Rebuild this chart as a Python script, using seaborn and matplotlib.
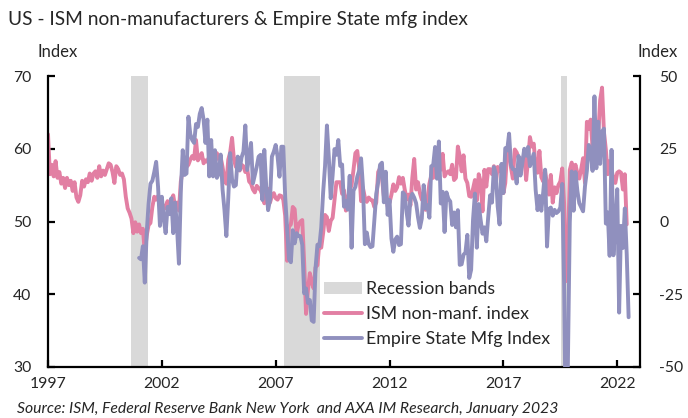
import numpy as np
import pandas as pd
import matplotlib
matplotlib.use("Agg")
import matplotlib.pyplot as plt
from matplotlib.patches import Patch
from matplotlib.lines import Line2D
import seaborn as sns

# ---------------- data ----------------
ism_start = 1997.5      # July 1997
ism_values = [
    62.0, 56.5, 57.8, 56.2, 58.3, 56.0,                                  # 1997 H2
    56.8, 55.2, 56.0, 54.6, 56.0, 55.0, 55.6, 54.2, 55.4, 53.3, 52.7, 53.6,  # 1998
    55.6, 54.8, 55.8, 55.4, 56.6, 55.6, 56.6, 56.9, 56.0, 57.6, 56.2, 57.0,  # 1999
    56.4, 57.2, 58.0, 57.8, 56.8, 55.3, 57.6, 57.2, 56.4, 56.6, 55.8, 53.4,  # 2000
    51.8, 51.2, 50.4, 48.4, 49.9, 48.6, 49.6, 48.4, 49.0, 45.8, 48.0, 49.5,  # 2001
    49.8, 52.0, 53.4, 53.0, 53.5, 52.2, 52.6, 52.0, 51.8, 52.8, 51.5, 52.3,  # 2002
    53.6, 52.0, 52.6, 51.5, 55.5, 57.0, 58.8, 57.5, 57.8, 58.5, 59.0, 58.6,  # 2003
    61.2, 58.4, 58.8, 59.4, 58.0, 58.4, 58.2, 59.0, 57.6, 59.2, 58.0, 59.4,  # 2004
    58.6, 58.8, 57.5, 55.8, 55.2, 58.5, 59.5, 61.5, 58.5, 57.5, 58.8, 57.0,  # 2005
    57.8, 57.6, 56.8, 57.2, 55.5, 55.2, 54.4, 54.0, 54.9, 54.6, 54.3, 53.6,  # 2006
    52.5, 54.0, 54.5, 52.6, 53.5, 53.9, 53.2, 53.0, 53.6, 53.5, 53.0, 50.8,  # 2007
    44.6, 49.3, 49.6, 52.0, 51.7, 48.2, 49.5, 50.0, 50.2, 44.4, 37.3, 40.6,  # 2008
    42.9, 41.6, 40.8, 43.7, 44.0, 47.0, 46.4, 48.4, 50.9, 50.6, 48.7, 50.1,  # 2009
    50.5, 53.0, 55.4, 55.4, 55.4, 53.8, 54.3, 51.5, 53.2, 54.3, 55.0, 57.1,  # 2010
    59.4, 59.7, 57.3, 52.8, 54.6, 53.3, 52.7, 53.3, 53.0, 52.9, 52.0, 52.6,  # 2011
    56.8, 57.3, 56.0, 53.5, 53.7, 52.1, 52.6, 53.7, 55.1, 54.2, 54.7, 56.1,  # 2012
    55.2, 56.0, 54.4, 53.1, 53.7, 52.2, 56.0, 58.6, 54.4, 55.4, 53.9, 53.0,  # 2013
    54.0, 51.6, 53.1, 55.2, 56.3, 56.0, 58.7, 59.6, 58.6, 57.1, 59.3, 56.2,  # 2014
    56.7, 56.9, 56.5, 57.8, 55.7, 56.0, 60.3, 59.0, 56.9, 59.1, 55.9, 55.3,  # 2015
    53.5, 53.4, 54.5, 55.7, 52.9, 56.5, 55.5, 51.4, 57.1, 54.8, 57.2, 57.2,  # 2016
    56.5, 57.6, 55.2, 57.5, 56.9, 57.4, 53.9, 55.3, 59.8, 60.1, 57.4, 55.9,  # 2017
    59.9, 59.5, 58.8, 56.8, 58.6, 59.1, 55.7, 58.5, 61.6, 60.3, 60.7, 57.6,  # 2018
    56.7, 59.7, 56.1, 55.5, 56.9, 55.1, 53.7, 56.4, 52.6, 54.7, 53.9, 55.0,  # 2019
    55.5, 57.3, 52.5, 41.8, 45.4, 57.1, 58.1, 56.9, 57.8, 56.6, 55.9, 57.2,  # 2020
    58.7, 55.3, 63.7, 62.7, 64.0, 60.1, 64.1, 61.7, 61.9, 66.7, 68.4, 62.3,  # 2021
    59.9, 56.5, 58.3, 57.1, 55.9, 55.3, 56.7, 56.9, 56.7, 54.4, 56.5, 49.6,  # 2022
]

empire_start = 2001.5   # July 2001
empire_values = [
    -12.5, -13.0, -8.5, -21.0, -4.0, 6.0,                               # 2001 H2
    13.0, 14.0, 17.0, 20.5, 12.0, -1.5, 8.5, 1.0, -4.0, 5.0, 2.5, 8.0,   # 2002
    -4.0, 6.5, -2.0, -14.5, 10.5, 24.5, 16.0, 16.5, 36.0, 30.0, 28.0, 27.0,  # 2003
    33.5, 32.5, 37.0, 39.0, 35.0, 27.0, 35.0, 15.5, 28.0, 15.5, 24.5, 15.0,  # 2004
    16.5, 23.0, 11.0, 4.0, -5.0, 8.0, 23.5, 14.5, 12.0, 12.5, 22.3, 17.7,    # 2005
    22.0, 24.0, 33.0, 17.7, 22.3, 27.0, 13.1, 16.0, 18.8, 22.3, 22.9, 7.4,   # 2006
    24.6, 12.0, 3.9, 7.4, 22.3, 24.0, 26.3, 22.3, 15.4, 25.7, 25.7, 8.5,     # 2007
    -2.0, -13.0, -14.0, -3.0, -7.5, -4.0, -5.0, -5.0, -8.0, -24.7, -23.0, -28.0,  # 2008
    -27.0, -34.0, -34.5, -16.0, -8.0, -8.5, -2.0, 10.0, 19.0, 33.0, 22.0, 8.0,    # 2009
    15.9, 24.9, 22.9, 28.0, 19.1, 19.6, 5.1, 7.1, 4.1, 15.7, -9.0, 10.6,     # 2010
    11.9, 15.4, 17.5, 21.7, 11.9, -7.8, -3.8, -7.7, -8.8, -8.5, 0.6, 9.5,    # 2011
    13.5, 19.5, 20.2, 6.6, 17.1, 2.3, 7.4, -5.9, -10.4, -6.2, -5.2, -8.1,    # 2012
    -7.8, 10.0, 9.2, 3.1, -1.4, 7.8, 9.5, 8.2, 6.3, 1.5, -2.2, 1.0,          # 2013
    12.5, 4.5, 5.6, 1.3, 19.0, 19.3, 25.6, 14.7, 27.5, 6.2, 10.2, -3.6,      # 2014
    10.0, 7.8, 6.9, -1.2, 3.1, -2.0, 3.9, -14.9, -14.7, -11.4, -10.7, -4.6,  # 2015
    -19.4, -16.6, 0.6, 9.6, -9.0, 6.0, 0.6, -4.2, -2.0, -6.8, 1.5, 9.0,      # 2016
    6.5, 18.7, 16.4, 5.2, -1.0, 19.8, 9.8, 25.2, 24.4, 30.2, 19.4, 18.0,     # 2017
    17.7, 13.1, 22.5, 15.8, 20.1, 25.0, 22.6, 25.6, 19.0, 21.1, 23.3, 10.9,  # 2018
    3.9, 8.8, 3.7, 10.1, 17.8, -8.6, 4.3, 4.8, 2.0, 4.0, 2.9, 3.5,           # 2019
    4.8, 12.9, -21.5, -78.2, -48.5, -0.2, 17.2, 3.7, 17.0, 10.5, 6.3, 4.9,   # 2020
    3.5, 12.1, 17.4, 26.3, 24.3, 17.4, 43.0, 18.3, 34.3, 19.8, 30.9, 31.9,   # 2021
    -0.7, 3.1, -11.8, 24.6, -11.6, -1.2, 11.1, -31.3, -1.5, -9.1, 4.5, -11.2,  # 2022
    -32.9,                                                               # 2023
]

recession_start = [(2001, 3), (2007, 12), (2020, 2)]
recession_end = [(2001, 11), (2009, 6), (2020, 4)]

tick_years = [1997, 2002, 2007, 2012, 2017, 2022]
left_ticks = [30, 40, 50, 60, 70]
right_ticks = [-50, -25, 0, 25, 50]

title = "US - ISM non-manufacturers & Empire State mfg index"
source = "Source: ISM, Federal Reserve Bank New York  and AXA IM Research, January 2023"
labels = ["Recession bands", "ISM non-manf. index", "Empire State Mfg Index"]

# ---------------- frames ----------------
ism_df = pd.DataFrame({"t": ism_start + np.arange(len(ism_values)) / 12.0,
                       "v": ism_values})
emp_df = pd.DataFrame({"t": empire_start + np.arange(len(empire_values)) / 12.0,
                       "v": empire_values})

def dec(ym):
    return ym[0] + (ym[1] - 1) / 12.0

# ---------------- style ----------------
sns.set_theme(style="white")
FONT = ["Lato", "DejaVu Sans"]
plt.rcParams["font.family"] = FONT
TXT = "#262626"
PINK = "#E27FA3"
PURPLE = "#9090BE"
GREY = "#D9D9D9"
LW = 2.8

fig = plt.figure(figsize=(6.88, 4.18), dpi=100)
ax = fig.add_axes([48 / 688, 1 - 367 / 418, 592 / 688, 291 / 418])
ax2 = ax.twinx()
ax2.patch.set_visible(False)

for s, e in zip(recession_start, recession_end):
    ax.axvspan(dec(s) - 0.5 / 12, dec(e) + 0.5 / 12, color=GREY, lw=0, zorder=0)

sns.lineplot(data=ism_df, x="t", y="v", ax=ax, color=PINK, linewidth=LW, zorder=2)
sns.lineplot(data=emp_df, x="t", y="v", ax=ax2, color=PURPLE, linewidth=LW, zorder=2)

xmin, xmax = 1997.5, 2023.5
for a in (ax, ax2):
    a.set_xlim(xmin, xmax)
    a.set_xlabel("")
    a.set_ylabel("")
ax.set_ylim(30, 70)
ax2.set_ylim(-50, 50)

ax.set_xticks([y + 0.5 for y in tick_years])
ax.set_xticklabels([str(y) for y in tick_years])
ax.set_yticks(left_ticks)
ax.set_yticklabels([str(v) for v in left_ticks])
ax2.set_yticks(right_ticks)
ax2.set_yticklabels([str(v) for v in right_ticks])

for a in (ax, ax2):
    for sp in a.spines.values():
        sp.set_color("black")
        sp.set_linewidth(1.6)
    a.spines["top"].set_visible(False)
ax.spines["right"].set_visible(False)
ax2.spines["left"].set_visible(False)
ax2.spines["bottom"].set_visible(False)

ax.tick_params(axis="x", direction="in", length=5, width=1.6, color="black",
               labelsize=11.3, labelcolor=TXT, pad=7, bottom=True)
ax.tick_params(axis="y", direction="in", length=5, width=1.6, color="black",
               labelsize=11.3, labelcolor=TXT, pad=12, left=True)
ax2.tick_params(axis="y", direction="in", length=5, width=1.6, color="black",
                labelsize=11.3, labelcolor=TXT, pad=14, right=True)

fig.text(8 / 688, 1 - 20 / 418, title, fontsize=13.8, color=TXT, va="center", ha="left")
fig.text(57.5 / 688, 1 - 52 / 418, "Index", fontsize=12, color=TXT, va="center", ha="center")
fig.text(658 / 688, 1 - 52 / 418, "Index", fontsize=12, color=TXT, va="center", ha="center")
fig.text(17 / 688, 1 - 409 / 418, source, fontsize=11.3, color=TXT, va="center", ha="left",
         style="italic")

handles = [Patch(facecolor=GREY, edgecolor="none"),
           Line2D([0], [0], color=PINK, lw=LW),
           Line2D([0], [0], color=PURPLE, lw=LW)]
leg = ax2.legend(handles, labels, loc="upper left",
                 bbox_to_anchor=((324 - 48) / 592, (367 - 281) / 291),
                 frameon=False, fontsize=12.8, handlelength=2.15, handletextpad=0.2,
                 labelspacing=0.5, borderaxespad=0, borderpad=0)
for t in leg.get_texts():
    t.set_color(TXT)

fig.savefig("out.png", dpi=100)
